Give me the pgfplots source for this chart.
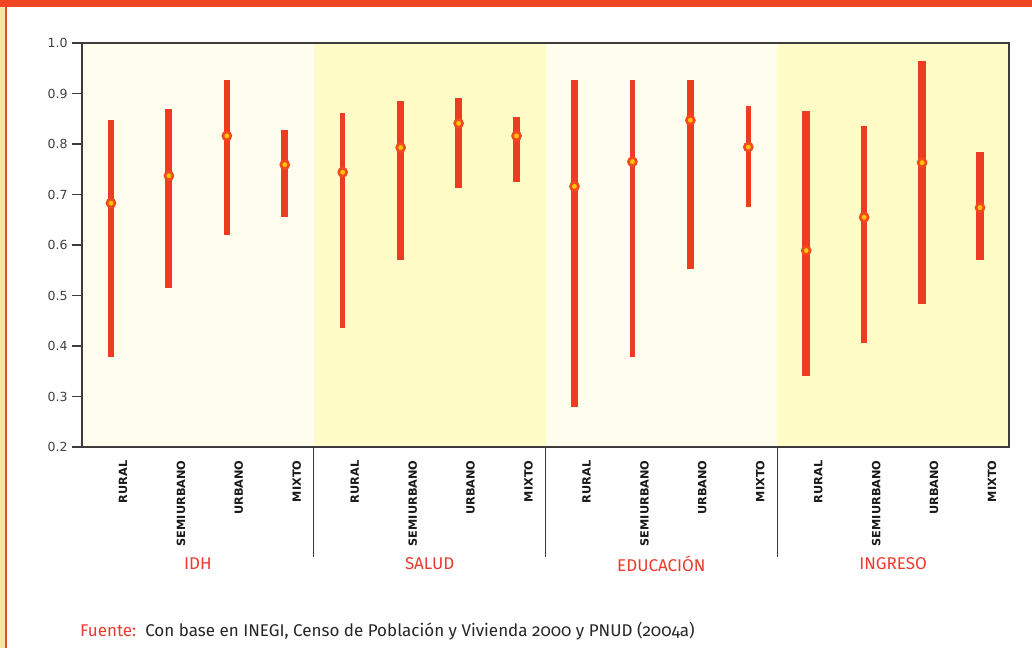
\documentclass[border=0pt]{standalone}
\usepackage{fontspec}
\setmainfont{DejaVu Sans}
\newfontfamily\fira[Numbers=OldStyle]{Fira Sans}
\usepackage{pgfplots}
\pgfplotsset{compat=1.18}
\definecolor{barred}{HTML}{EE3B24}
\definecolor{dotring}{HTML}{F24A1F}
\definecolor{dotfill}{HTML}{FFC400}
\definecolor{topbar}{HTML}{F04523}
\definecolor{beige}{HTML}{F8E2A8}
\definecolor{palebg}{HTML}{FFFEEE}
\definecolor{yelbg}{HTML}{FFFCC8}
\definecolor{grplab}{HTML}{EC3A2E}
\definecolor{frame}{HTML}{3C3C3C}
\pgfplotstableread{
x mid
0 0.683
1 0.737
2 0.816
3 0.759
4 0.744
5 0.793
6 0.841
7 0.816
8 0.716
9 0.765
10 0.847
11 0.794
12 0.589
13 0.655
14 0.763
15 0.674
}\mids
\begin{document}
\begin{tikzpicture}[x=1pt,y=1pt]
\path[use as bounding box, fill=white] (0,0) rectangle (1032,648);
\fill[topbar] (0,641) rectangle (1032,648);
\fill[beige] (0,0) rectangle (5,641);
\fill[topbar] (5,0) rectangle (7,641);
\begin{axis}[
  at={(82pt,201pt)}, anchor=south west,
  scale only axis, width=927pt, height=404pt,
  xmin=-0.5, xmax=15.5, ymin=0.2, ymax=1.0,
  axis on top,
  axis line style={draw=frame, line width=1.3pt},
  xtick={0,...,15},
  xticklabels={RURAL,SEMIURBANO,URBANO,MIXTO,RURAL,SEMIURBANO,URBANO,MIXTO,RURAL,SEMIURBANO,URBANO,MIXTO,RURAL,SEMIURBANO,URBANO,MIXTO},
  xticklabel style={rotate=90, anchor=east, font=\bfseries\fontsize{11.3}{11.3}\selectfont, text=black!90, yshift=-12pt},
  xtick style={draw=none},
  xtick pos=bottom, ytick pos=left,
  ytick={0.2,0.3,0.4,0.5,0.6,0.7,0.8,0.9,1.0},
  yticklabels={0.2,0.3,0.4,0.5,0.6,0.7,0.8,0.9,1.0},
  yticklabel style={font=\fontsize{12.5}{12.5}\selectfont, text=black!75, xshift=-1pt},
  ytick style={draw=frame, line width=1.2pt},
  tick align=outside, major tick length=10pt,
  clip=false,
]
\fill[palebg] (axis cs:-0.5,0.2) rectangle (axis cs:3.5,1.0);
\fill[yelbg] (axis cs:3.5,0.2) rectangle (axis cs:7.5,1.0);
\fill[palebg] (axis cs:7.5,0.2) rectangle (axis cs:11.5,1.0);
\fill[yelbg] (axis cs:11.5,0.2) rectangle (axis cs:15.5,1.0);
% IDH
\addplot[barred, line width=5.2pt, mark=none] coordinates {(0,0.379) (0,0.847)};
\addplot[barred, line width=7pt, mark=none] coordinates {(1,0.514) (1,0.869)};
\addplot[barred, line width=5.7pt, mark=none] coordinates {(2,0.619) (2,0.926)};
\addplot[barred, line width=6.7pt, mark=none] coordinates {(3,0.656) (3,0.828)};
% SALUD
\addplot[barred, line width=5.2pt, mark=none] coordinates {(4,0.436) (4,0.861)};
\addplot[barred, line width=7pt, mark=none] coordinates {(5,0.570) (5,0.885)};
\addplot[barred, line width=7pt, mark=none] coordinates {(6,0.713) (6,0.892)};
\addplot[barred, line width=7pt, mark=none] coordinates {(7,0.725) (7,0.853)};
% EDUCACION
\addplot[barred, line width=7.3pt, mark=none] coordinates {(8,0.279) (8,0.926)};
\addplot[barred, line width=5.3pt, mark=none] coordinates {(9,0.379) (9,0.926)};
\addplot[barred, line width=6.7pt, mark=none] coordinates {(10,0.552) (10,0.926)};
\addplot[barred, line width=5.2pt, mark=none] coordinates {(11,0.675) (11,0.876)};
% INGRESO
\addplot[barred, line width=7.6pt, mark=none] coordinates {(12,0.341) (12,0.866)};
\addplot[barred, line width=5.7pt, mark=none] coordinates {(13,0.405) (13,0.835)};
\addplot[barred, line width=7.3pt, mark=none] coordinates {(14,0.484) (14,0.964)};
\addplot[barred, line width=7.3pt, mark=none] coordinates {(15,0.570) (15,0.785)};
% medians
\addplot[only marks, mark=*, mark size=4pt, mark options={fill=dotfill, draw=dotring, line width=2.6pt}] table[x=x, y=mid] {\mids};
% separators
\draw[frame, line width=1.3pt] (axis cs:3.5,0.2) -- ([yshift=-110pt]axis cs:3.5,0.2);
\draw[frame, line width=1.3pt] (axis cs:7.5,0.2) -- ([yshift=-110pt]axis cs:7.5,0.2);
\draw[frame, line width=1.3pt] (axis cs:11.5,0.2) -- ([yshift=-110pt]axis cs:11.5,0.2);
% group labels
\node[text=grplab, font=\fira\fontsize{17}{17}\selectfont] at ([yshift=-117pt]axis cs:1.5,0.2) {IDH};
\node[text=grplab, font=\fira\fontsize{17}{17}\selectfont] at ([yshift=-117pt]axis cs:5.5,0.2) {SALUD};
\node[text=grplab, font=\fira\fontsize{17}{17}\selectfont] at ([yshift=-117pt]axis cs:9.5,0.2) {EDUCACIÓN};
\node[text=grplab, font=\fira\fontsize{17}{17}\selectfont] at ([yshift=-117pt]axis cs:13.5,0.2) {INGRESO};
\end{axis}
\node[anchor=base west, inner sep=0pt, text=black!85, font=\fira\fontsize{17}{17}\selectfont] at (80,12) {\textcolor{grplab}{Fuente:}\ \ Con base en INEGI, Censo de Población y Vivienda 2000 y PNUD (2004a)};
\end{tikzpicture}
\end{document}
